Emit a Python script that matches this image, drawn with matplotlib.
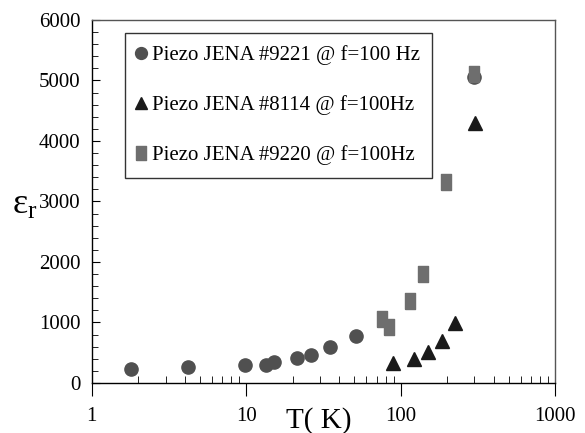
import matplotlib
matplotlib.use("Agg")
import matplotlib.pyplot as plt
from matplotlib.ticker import LogLocator, MultipleLocator, NullFormatter

plt.rcParams['font.family'] = ['Liberation Serif', 'DejaVu Serif']
plt.rcParams['mathtext.fontset'] = 'custom'
plt.rcParams['mathtext.rm'] = 'Liberation Serif'
plt.rcParams['mathtext.it'] = 'Liberation Serif'

# Piezo JENA #9221 (circles)
t_9221 = [1.78, 4.2, 9.8, 13.4, 15.2, 21.3, 26.1, 34.9, 51.2, 296]
e_9221 = [230, 260, 300, 300, 345, 420, 470, 590, 780, 5050]

# Piezo JENA #8114 (triangles)
t_8114 = [89.7, 121.6, 151, 186, 224, 303]
e_8114 = [330, 400, 520, 690, 990, 4290]

# Piezo JENA #9220 (squares)
t_9220 = [76.1, 84.1, 114, 139.6, 195, 296]
e_9220 = [1050, 920, 1350, 1800, 3320, 5100]

labels = ['Piezo JENA #9221 @ f=100 Hz',
          'Piezo JENA #8114 @ f=100Hz',
          'Piezo JENA #9220 @ f=100Hz']

# tall rectangle marker like the original
rect = [(-0.33, -0.5), (0.33, -0.5), (0.33, 0.5), (-0.33, 0.5), (-0.33, -0.5)]

fig = plt.figure(figsize=(5.85, 4.33), dpi=100)
ax = fig.add_axes([0.157, 0.1155, 0.792, 0.8385])

ax.plot(t_9221, e_9221, 'o', color='#505050', markersize=9.5, label=labels[0], zorder=3)
ax.plot(t_8114, e_8114, '^', color='#1a1a1a', markersize=9.5, label=labels[1], zorder=4)
ax.plot(t_9220, e_9220, marker=rect, ls='none', color='#6e6e6e', markersize=11,
        label=labels[2], zorder=3)

ax.set_xscale('log')
ax.set_xlim(1, 1000)
ax.set_ylim(0, 6000)
ax.yaxis.set_major_locator(MultipleLocator(1000))
ax.yaxis.set_minor_locator(MultipleLocator(200))
ax.xaxis.set_minor_locator(LogLocator(base=10, subs=range(2, 10)))
ax.xaxis.set_minor_formatter(NullFormatter())
ax.set_xticks([1, 10, 100, 1000])
ax.set_xticklabels(['1', '10', '100', '1000'])

ax.tick_params(axis='both', which='both', direction='in', labelsize=15)
ax.tick_params(axis='x', which='major', direction='out', length=9, pad=8)
ax.tick_params(axis='x', which='minor', length=5)
ax.tick_params(axis='y', which='major', length=6, pad=8)
ax.tick_params(axis='y', which='minor', length=4)
for s in ax.spines.values():
    s.set_linewidth(1.0)
ax.spines['top'].set_color('#555555')
ax.spines['right'].set_color('#555555')

ax.set_xlabel('T( K)', fontsize=21)
ax.xaxis.set_label_coords(0.49, -0.065)
ax.set_ylabel(r'$\varepsilon_\mathrm{r}$', fontsize=26, rotation=0, va='center')
ax.yaxis.set_label_coords(-0.145, 0.49)

leg = ax.legend(loc='upper left', bbox_to_anchor=(0.071, 0.965), fontsize=15,
                frameon=True, fancybox=False, edgecolor='black', handlelength=0.4,
                handletextpad=0.3, borderpad=0.6, labelspacing=1.45, markerscale=0.9,
                borderaxespad=0)
leg.get_frame().set_linewidth(1.0)

fig.savefig('out.png', dpi=100)
